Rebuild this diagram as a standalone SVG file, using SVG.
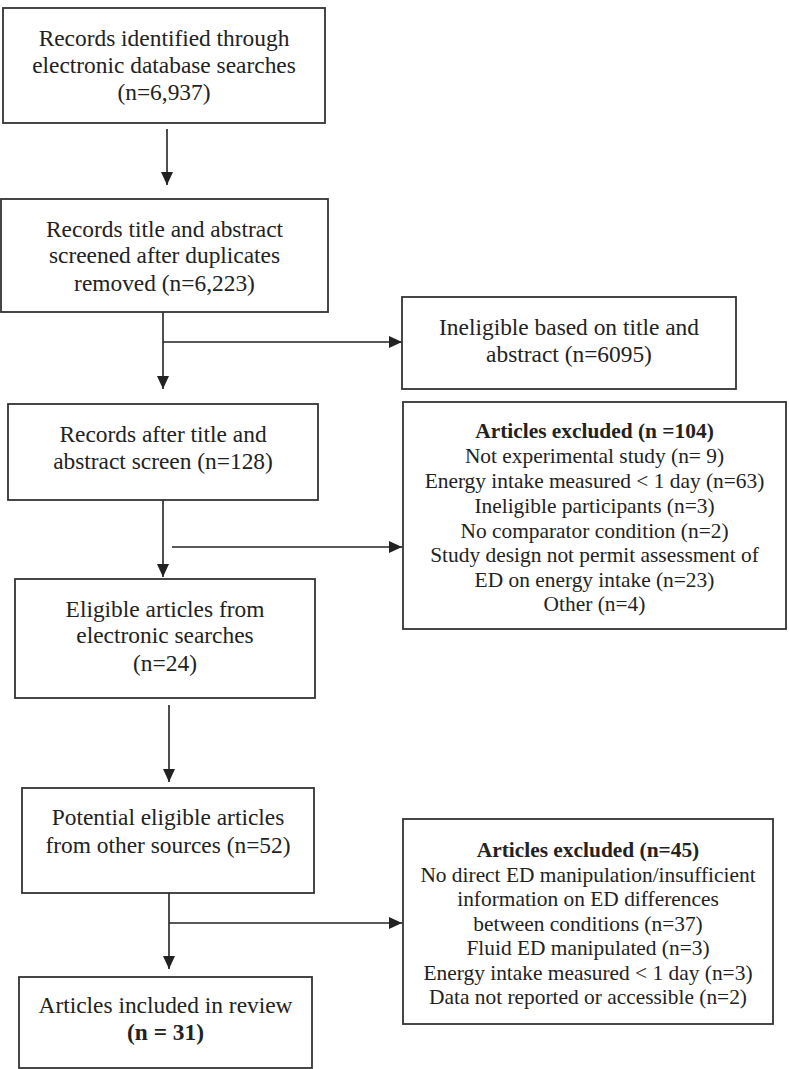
<svg xmlns="http://www.w3.org/2000/svg" width="789" height="1069" viewBox="0 0 789 1069">
<style>
.box{fill:#fff;stroke:#333;stroke-width:1.8}
.t{font-family:"Liberation Serif","Times New Roman",serif;font-size:23.4px;fill:#222;text-anchor:middle}
.s{font-family:"Liberation Serif","Times New Roman",serif;font-size:21.4px;fill:#222;text-anchor:middle}
.b{font-weight:bold}
.c{stroke:#222;stroke-width:1.6;fill:none}
</style>
<defs>
<marker id="ah" markerUnits="userSpaceOnUse" markerWidth="14" markerHeight="12" refX="13" refY="6" orient="auto">
<path d="M0,0 L13,6 L0,12 Z" fill="#222"/>
</marker>
</defs>
<rect width="789" height="1069" fill="#fff"/>
<g id="connectors">
<line class="c" x1="167" y1="129" x2="167" y2="185" marker-end="url(#ah)"/>
<line class="c" x1="163" y1="312" x2="163" y2="389" marker-end="url(#ah)"/>
<line class="c" x1="163" y1="342" x2="402" y2="342" marker-end="url(#ah)"/>
<line class="c" x1="163" y1="500" x2="163" y2="577" marker-end="url(#ah)"/>
<line class="c" x1="172" y1="547" x2="402" y2="547" marker-end="url(#ah)"/>
<line class="c" x1="169" y1="705" x2="169" y2="782" marker-end="url(#ah)"/>
<line class="c" x1="169" y1="893" x2="169" y2="969" marker-end="url(#ah)"/>
<line class="c" x1="169" y1="923" x2="402" y2="923" marker-end="url(#ah)"/>
</g>
<g id="n1">
<rect class="box" x="3" y="8" width="322" height="115"/>
<text class="t" x="164" y="46">Records identified through</text>
<text class="t" x="164" y="73">electronic database searches</text>
<text class="t" x="164" y="100">(n=6,937)</text>
</g>
<g id="n2">
<rect class="box" x="1" y="199" width="327" height="113"/>
<text class="t" x="164.5" y="237">Records title and abstract</text>
<text class="t" x="164.5" y="263">screened after duplicates</text>
<text class="t" x="164.5" y="291">removed (n=6,223)</text>
</g>
<g id="n3">
<rect class="box" x="402" y="297" width="334" height="92"/>
<text class="t" x="569" y="335">Ineligible based on title and</text>
<text class="t" x="569" y="362">abstract (n=6095)</text>
</g>
<g id="n4">
<rect class="box" x="8" y="404" width="310" height="96"/>
<text class="t" x="163" y="442">Records after title and</text>
<text class="t" x="163" y="469">abstract screen (n=128)</text>
</g>
<g id="n5">
<rect class="box" x="403" y="402" width="383" height="227"/>
<text class="s b" x="594.5" y="438">Articles excluded (n =104)</text>
<text class="s" x="594.5" y="463">Not experimental study (n= 9)</text>
<text class="s" x="594.5" y="488">Energy intake measured &lt; 1 day (n=63)</text>
<text class="s" x="594.5" y="513">Ineligible participants (n=3)</text>
<text class="s" x="594.5" y="538">No comparator condition (n=2)</text>
<text class="s" x="594.5" y="562">Study design not permit assessment of</text>
<text class="s" x="594.5" y="587">ED on energy intake (n=23)</text>
<text class="s" x="594.5" y="611">Other (n=4)</text>
</g>
<g id="n6">
<rect class="box" x="15" y="579" width="300" height="119"/>
<text class="t" x="165" y="617">Eligible articles from</text>
<text class="t" x="165" y="643">electronic searches</text>
<text class="t" x="165" y="671">(n=24)</text>
</g>
<g id="n7">
<rect class="box" x="22" y="788" width="292" height="105"/>
<text class="t" x="168" y="825">Potential eligible articles</text>
<text class="t" x="168" y="853">from other sources (n=52)</text>
</g>
<g id="n8">
<rect class="box" x="403" y="819" width="370" height="205"/>
<text class="s b" x="588" y="857">Articles excluded (n=45)</text>
<text class="s" x="588" y="882">No direct ED manipulation/insufficient</text>
<text class="s" x="588" y="906">information on ED differences</text>
<text class="s" x="588" y="931">between conditions (n=37)</text>
<text class="s" x="588" y="955">Fluid ED manipulated (n=3)</text>
<text class="s" x="588" y="980">Energy intake measured &lt; 1 day (n=3)</text>
<text class="s" x="588" y="1004">Data not reported or accessible (n=2)</text>
</g>
<g id="n9">
<rect class="box" x="19" y="977" width="293" height="91"/>
<text class="t" x="165.5" y="1013">Articles included in review</text>
<text class="t b" x="165.5" y="1040">(n = 31)</text>
</g>
</svg>
